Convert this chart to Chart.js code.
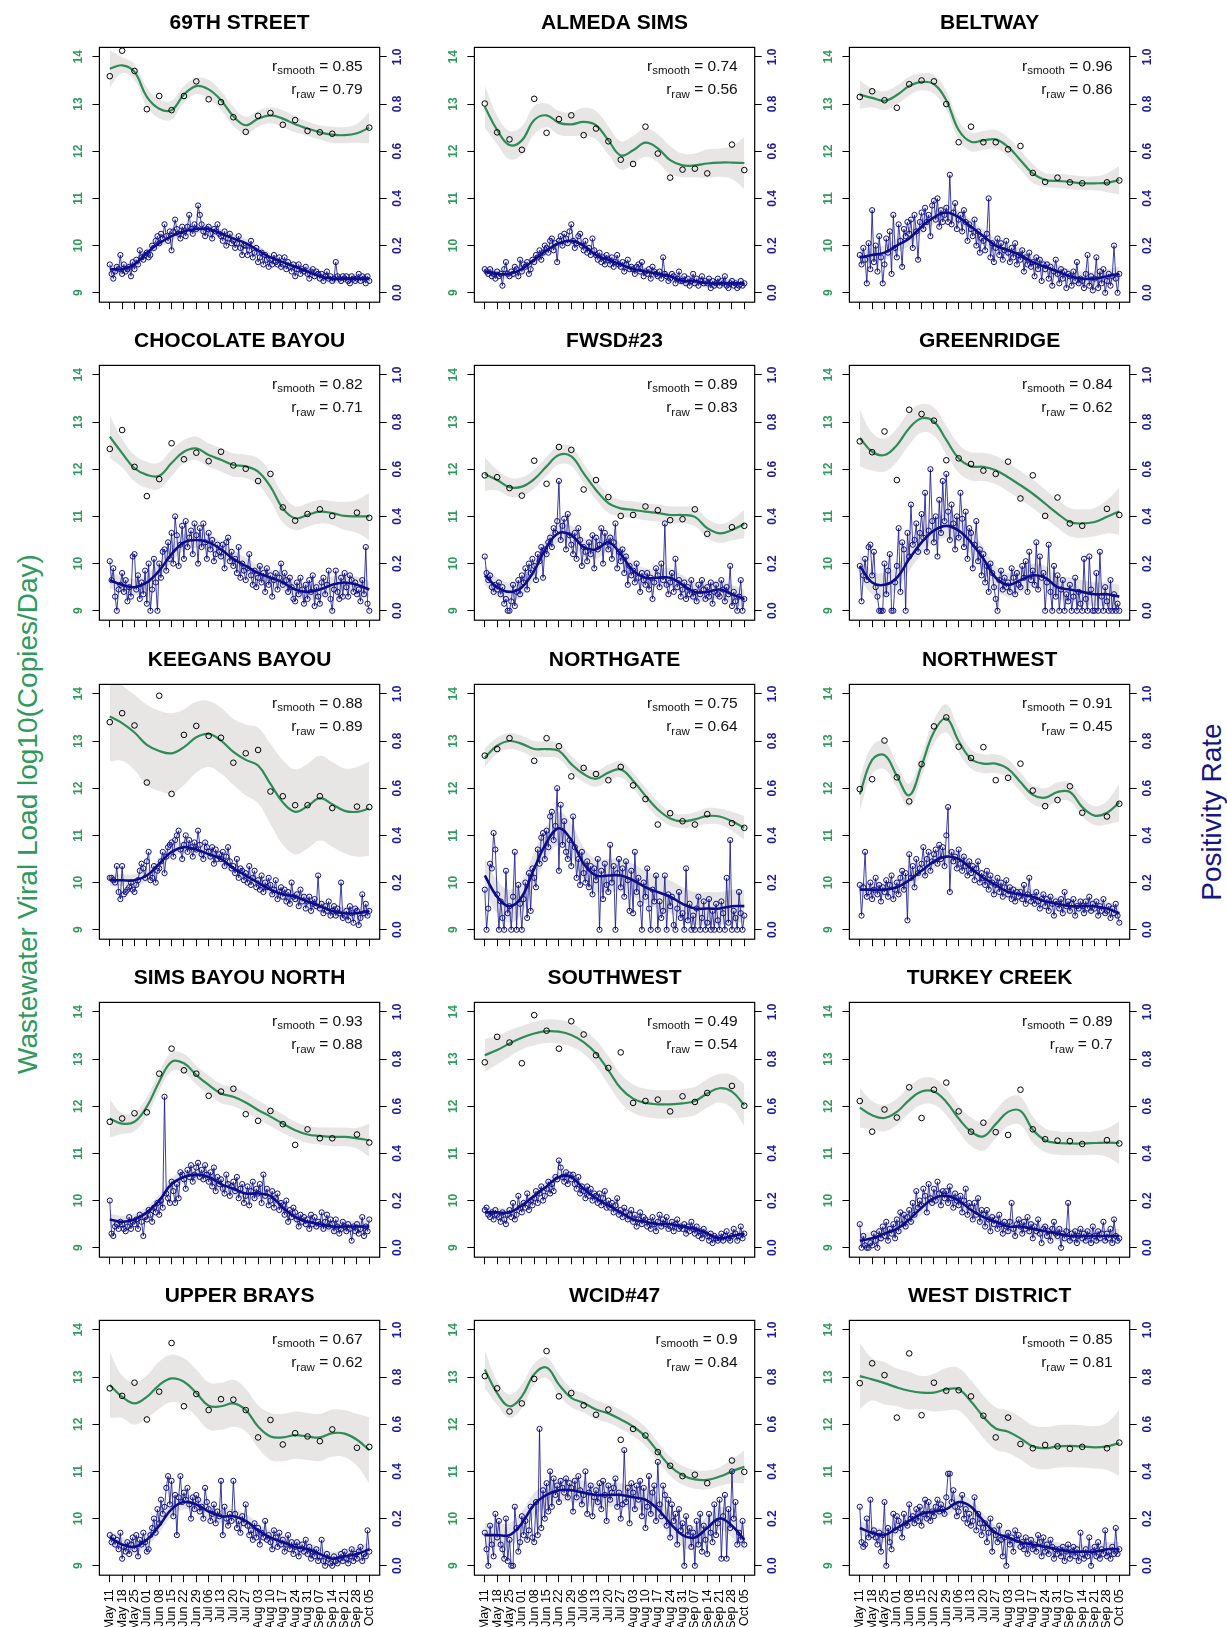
<!DOCTYPE html>
<html>
<head>
<meta charset="utf-8">
<script src="https://cdn.jsdelivr.net/npm/chart.js@4.4.1/dist/chart.umd.min.js"></script>
<style>
body { margin: 0; background: #fff; }
#page { position: relative; width: 1227px; height: 1627px; overflow: hidden; background: #fff;
  font-family: "Liberation Sans", Arial, Helvetica, sans-serif; }
#page canvas { position: absolute; }
.ytitle { position: absolute; white-space: nowrap; font-size: 28px; line-height: 1;
  transform: translate(-50%, -50%) rotate(-90deg); }
</style>
</head>
<body>
<div id="page">
  <div class="ytitle" style="left:28px; top:814px; color:#2e9a5c;">Wastewater Viral Load log10(Copies/Day)</div>
  <div class="ytitle" style="left:1212px; top:812px; color:#15158a;">Positivity Rate</div>
</div>
<script>
// ---- data ----
const sites = ['69TH STREET', 'ALMEDA SIMS', 'BELTWAY', 'CHOCOLATE BAYOU', 'FWSD#23', 'GREENRIDGE',
  'KEEGANS BAYOU', 'NORTHGATE', 'NORTHWEST', 'SIMS BAYOU NORTH', 'SOUTHWEST', 'TURKEY CREEK',
  'UPPER BRAYS', 'WCID#47', 'WEST DISTRICT'];
const rSmooth = [0.85, 0.74, 0.96, 0.82, 0.89, 0.84, 0.88, 0.75, 0.91, 0.93, 0.49, 0.89, 0.67, 0.9, 0.85];
const rRaw = [0.79, 0.56, 0.86, 0.71, 0.83, 0.62, 0.89, 0.64, 0.45, 0.88, 0.54, 0.7, 0.62, 0.84, 0.81];

// days since May 11, one tick per week
const weekDays = [0, 7, 14, 21, 28, 35, 42, 49, 56, 63, 70, 77, 84, 91, 98, 105, 112, 119, 126, 133, 140, 147];
const weekLabels = ['May 11', 'May 18', 'May 25', 'Jun 01', 'Jun 08', 'Jun 15', 'Jun 22', 'Jun 29', 'Jul 06',
  'Jul 13', 'Jul 20', 'Jul 27', 'Aug 03', 'Aug 10', 'Aug 17', 'Aug 24', 'Aug 31', 'Sep 07', 'Sep 14',
  'Sep 21', 'Sep 28', 'Oct 05'];
const wwTicks = [9, 10, 11, 12, 13, 14];
const posTicks = [0, 0.2, 0.4, 0.6, 0.8, 1.0];

// weekly wastewater samples, log10 copies/day
const wwRaw = [
  [13.59,14.13,13.70,12.89,13.17,12.87,13.17,13.48,13.10,13.04,12.72,12.41,12.75,12.81,12.56,12.66,12.43,12.40,12.37,null,null,12.50],
  [13.01,12.40,12.25,12.03,13.11,12.39,12.68,12.76,12.34,12.48,12.21,11.82,11.73,12.52,11.95,11.44,11.61,11.63,11.53,null,12.14,11.60],
  [13.15,13.27,13.08,12.92,13.42,13.50,13.48,13.00,12.19,12.52,12.19,12.19,12.04,12.11,11.54,11.35,11.44,11.34,11.32,null,11.34,11.38],
  [12.43,12.83,12.05,11.43,11.79,12.55,12.21,12.35,12.17,12.37,12.08,12.01,11.75,11.90,11.19,10.91,11.05,11.15,11.01,null,11.08,10.97],
  [11.87,11.83,11.60,11.44,12.18,11.69,12.47,12.41,11.57,11.77,11.41,11.01,11.03,11.21,11.13,10.92,10.94,11.15,10.63,null,10.77,10.80],
  [12.59,12.36,12.80,11.77,13.26,13.17,13.03,12.19,12.23,12.11,11.97,11.90,12.16,11.38,11.87,11.01,11.40,10.85,10.80,null,11.16,11.03],
  [13.40,13.59,13.33,12.12,13.96,11.88,13.13,13.32,13.11,13.07,12.54,12.74,12.81,11.93,11.83,11.64,11.64,11.83,11.58,null,11.61,11.60],
  [12.69,12.83,13.06,null,12.58,13.06,12.89,12.25,12.43,12.30,12.17,12.45,12.06,11.77,11.23,11.47,11.30,11.23,11.45,null,11.26,11.16],
  [11.98,12.19,13.01,12.23,11.72,12.51,13.31,13.50,12.88,12.64,12.87,12.17,12.22,12.52,11.95,11.62,11.75,12.04,11.48,null,11.40,11.67],
  [11.67,11.74,11.85,11.87,12.69,13.22,12.76,12.69,12.22,12.31,12.37,11.83,11.69,11.90,11.62,11.18,11.51,11.32,11.32,null,11.40,11.23],
  [12.93,13.47,13.35,12.91,13.93,13.60,13.22,13.80,13.52,13.08,12.81,13.14,12.07,12.11,12.14,11.89,12.21,12.09,12.28,null,12.43,12.01],
  [12.11,11.46,11.93,11.76,12.40,11.75,12.35,12.50,11.89,11.46,11.65,11.45,11.39,12.35,11.51,11.30,11.27,11.26,11.20,null,11.28,11.21],
  [12.76,12.60,12.88,12.10,12.69,13.72,12.38,12.64,12.30,12.53,12.52,12.30,11.72,12.09,11.57,11.81,11.74,11.64,11.89,null,11.50,11.52],
  [13.02,12.76,12.27,12.44,12.96,13.55,12.59,12.66,12.40,12.20,12.31,11.67,11.90,11.76,11.41,11.12,10.90,10.93,10.75,null,11.23,10.99],
  [12.87,13.29,13.04,12.14,13.50,12.19,12.88,12.71,12.72,12.59,12.18,11.72,12.14,11.58,11.49,11.56,11.53,11.48,11.52,null,11.49,11.61]
];

// smoothed wastewater curve read at each weekly tick
const wwSmooth = [
  [13.75,13.82,13.68,13.15,12.90,12.87,13.20,13.38,13.31,13.08,12.74,12.55,12.69,12.76,12.69,12.57,12.48,12.40,12.35,12.34,12.38,12.50],
  [12.94,12.45,12.13,12.23,12.66,12.76,12.60,12.57,12.62,12.55,12.23,11.91,12.02,12.18,12.06,11.81,11.70,11.70,11.74,11.76,11.76,11.75],
  [13.20,13.13,13.07,13.19,13.38,13.47,13.42,13.08,12.45,12.20,12.23,12.25,12.09,11.81,11.53,11.39,11.37,11.35,11.32,11.32,11.33,11.39],
  [12.69,12.34,12.02,11.88,11.86,12.13,12.37,12.44,12.30,12.20,12.09,12.06,11.95,11.63,11.17,10.96,11.03,11.10,11.07,11.01,11.00,11.00],
  [11.90,11.77,11.62,11.63,11.79,12.06,12.30,12.27,11.91,11.56,11.28,11.17,11.14,11.10,11.07,11.03,11.03,10.99,10.75,10.64,10.71,10.84],
  [12.66,12.37,12.30,12.51,12.87,13.08,13.01,12.62,12.23,12.06,12.05,11.98,11.83,11.66,11.48,11.27,11.06,10.88,10.85,10.88,10.99,11.11],
  [13.52,13.38,13.18,12.92,12.79,12.74,12.87,13.08,13.15,13.01,12.77,12.60,12.48,12.09,11.70,11.50,11.62,11.79,11.66,11.52,11.50,11.57],
  [12.65,12.90,13.00,12.94,12.83,12.83,12.79,12.51,12.30,12.20,12.33,12.40,12.16,11.84,11.55,11.36,11.30,11.34,11.41,11.40,11.30,11.16],
  [11.87,12.60,12.70,12.26,11.85,12.48,13.19,13.48,13.00,12.62,12.52,12.52,12.41,12.13,11.86,11.80,11.92,11.92,11.60,11.42,11.48,11.70],
  [11.74,11.63,11.67,11.99,12.52,12.94,12.91,12.66,12.45,12.27,12.20,12.08,11.92,11.78,11.63,11.49,11.40,11.37,11.35,11.35,11.32,11.28],
  [13.08,13.19,13.33,13.45,13.54,13.59,13.58,13.51,13.36,13.12,12.76,12.38,12.16,12.07,12.04,12.04,12.06,12.11,12.27,12.38,12.31,12.02],
  [11.97,11.81,11.75,11.88,12.13,12.31,12.31,12.09,11.74,11.46,11.36,11.62,11.88,11.90,11.50,11.28,11.22,11.21,11.21,11.22,11.23,11.22],
  [12.83,12.58,12.44,12.58,12.83,12.97,12.90,12.66,12.39,12.38,12.44,12.30,11.95,11.74,11.72,11.77,11.74,11.72,11.81,11.80,11.67,11.45],
  [13.16,12.66,12.38,12.59,13.06,13.20,12.84,12.56,12.45,12.31,12.23,12.10,11.95,11.74,11.42,11.11,10.92,10.83,10.82,10.89,11.00,11.10],
  [13.02,12.95,12.87,12.78,12.71,12.67,12.67,12.74,12.74,12.48,12.16,11.91,11.84,11.70,11.53,11.49,11.53,11.54,11.53,11.51,11.53,11.60]
];

// half-width of the grey band around the wastewater curve
const wwBand = [
  [0.40,0.17,0.17,0.20,0.20,0.20,0.18,0.17,0.20,0.20,0.20,0.18,0.17,0.17,0.18,0.17,0.15,0.15,0.17,0.17,0.20,0.33],
  [0.45,0.30,0.30,0.30,0.30,0.25,0.25,0.25,0.30,0.30,0.30,0.30,0.30,0.30,0.30,0.30,0.25,0.25,0.30,0.30,0.35,0.55],
  [0.30,0.20,0.20,0.20,0.20,0.18,0.20,0.20,0.20,0.20,0.20,0.20,0.20,0.20,0.20,0.15,0.15,0.15,0.15,0.15,0.20,0.30],
  [0.45,0.30,0.28,0.28,0.28,0.28,0.25,0.25,0.25,0.25,0.25,0.25,0.28,0.30,0.30,0.25,0.25,0.25,0.25,0.30,0.35,0.50],
  [0.35,0.22,0.20,0.20,0.20,0.20,0.20,0.20,0.20,0.20,0.20,0.18,0.18,0.18,0.18,0.18,0.18,0.20,0.20,0.20,0.22,0.30],
  [0.60,0.40,0.35,0.35,0.35,0.30,0.30,0.30,0.30,0.30,0.30,0.30,0.30,0.30,0.30,0.30,0.30,0.30,0.30,0.30,0.35,0.50],
  [0.95,0.80,0.80,0.85,0.85,0.85,0.80,0.75,0.70,0.70,0.70,0.75,0.80,0.85,0.90,0.90,0.90,0.90,0.90,0.90,0.95,1.00],
  [0.20,0.17,0.17,0.17,0.17,0.17,0.17,0.17,0.17,0.17,0.17,0.17,0.17,0.17,0.17,0.15,0.15,0.15,0.17,0.17,0.20,0.25],
  [0.35,0.30,0.30,0.25,0.25,0.25,0.25,0.30,0.25,0.20,0.20,0.20,0.20,0.20,0.20,0.20,0.20,0.20,0.20,0.20,0.25,0.40],
  [0.40,0.22,0.20,0.20,0.20,0.20,0.20,0.20,0.20,0.20,0.20,0.20,0.20,0.20,0.20,0.18,0.18,0.18,0.20,0.20,0.22,0.35],
  [0.35,0.30,0.28,0.25,0.25,0.25,0.25,0.25,0.25,0.28,0.30,0.30,0.30,0.30,0.30,0.30,0.30,0.30,0.30,0.30,0.35,0.45],
  [0.42,0.30,0.28,0.28,0.28,0.28,0.28,0.28,0.28,0.30,0.30,0.30,0.30,0.30,0.28,0.25,0.25,0.25,0.25,0.25,0.30,0.45],
  [0.70,0.45,0.45,0.45,0.50,0.50,0.50,0.50,0.50,0.50,0.50,0.45,0.45,0.50,0.50,0.50,0.50,0.50,0.50,0.50,0.55,0.70],
  [0.40,0.25,0.25,0.25,0.22,0.22,0.22,0.20,0.20,0.20,0.20,0.20,0.20,0.20,0.20,0.20,0.20,0.20,0.20,0.20,0.25,0.35],
  [0.70,0.45,0.45,0.40,0.40,0.35,0.40,0.45,0.45,0.45,0.45,0.45,0.45,0.45,0.45,0.45,0.45,0.45,0.45,0.45,0.50,0.70]
];

// smoothed positivity rate (%) at each weekly tick
const posSmooth = [
  [10,10,12,17,21,24,26,27,27,25,23,21,18,15,13,11,9,7,6,6,6,6],
  [9,8,8,10,14,18,21,22,20,16,14,12,10,9,8,7,5,5,4,4,4,4],
  [15,16,17,20,23,28,32,34,32,28,24,20,18,16,13,11,9,7,6,6,7,8],
  [13,11,10,12,17,24,29,30,29,26,22,19,16,14,12,9,8,9,11,12,11,9],
  [15,10,8,10,17,27,33,32,27,26,29,24,17,14,14,14,11,8,8,9,7,5],
  [19,12,11,14,22,29,34,36,34,29,22,14,11,13,15,14,10,9,8,7,7,6],
  [21,21,21,23,28,33,35,34,32,30,26,23,20,17,15,14,12,10,8,7,7,8],
  [23,14,10,14,26,37,43,38,28,23,23,23,21,18,16,14,11,9,9,9,10,10],
  [17,17,17,18,21,25,29,31,30,26,22,19,16,15,14,12,11,10,10,10,9,7],
  [12,11,12,15,20,27,30,31,30,27,25,23,23,22,17,13,11,10,9,9,9,9],
  [15,15,15,18,22,26,30,30,25,21,18,15,12,11,10,10,9,8,6,4,5,6],
  [3,4,6,8,12,17,21,22,20,16,13,11,9,9,8,7,6,5,5,5,5,5],
  [12,9,8,11,17,24,27,26,23,21,21,19,15,12,10,8,7,5,3,4,5,7],
  [13,13,13,18,26,30,32,32,31,30,30,30,29,28,24,18,13,12,16,20,17,11],
  [16,14,13,16,19,22,23,24,27,25,19,14,12,10,9,8,7,6,6,6,7,7]
];
// half-width of the grey band around the positivity curve (%)
const posBand = [2, 2, 3, 3.5, 4, 5, 2.5, 7, 3, 2.5, 2, 3, 3, 5, 3];

// daily positivity rate (%), May 11 .. Oct 05
const posRaw = [
  [12,8,6,9,11,10,16, 8,12,9,10,11,7,13, 10,14,12,18,15,14,16, 17,15,16,20,19,22,24, 21,25,23,29,24,22,26,
   18,26,31,27,25,23,28, 26,24,28,33,27,25,29, 27,37,33,29,26,24,27, 28,25,23,27,26,29,25, 24,22,26,20,23,25,21,
   22,19,21,24,19,16,20, 20,16,18,22,15,17,19, 13,15,17,12,16,14,11, 14,12,16,13,12,15,11, 12,15,10,13,11,9,12,
   7,10,12,8,10,9,11, 8,6,9,10,7,9,8, 6,8,5,7,9,6,7, 5,6,13,7,6,5,7, 6,7,5,4,7,6,5, 6,8,5,7,6,4,7, 5],
  [10,9,8,10,7,8,6, 9,7,8,3,10,13,8, 7,9,8,11,10,7,14, 9,12,11,13,8,10,14, 13,16,15,18,14,17,20,
   19,17,22,23,18,21,13, 22,24,20,25,23,21,26, 29,22,19,21,24,25,20, 18,22,17,19,16,23,18, 16,14,17,13,15,12,16,
   14,12,15,11,13,16,12, 11,13,9,12,14,10,11, 10,8,11,12,9,13,7, 9,8,10,6,11,9,8, 7,9,6,15,8,7,5,
   6,8,7,4,6,9,5, 5,7,4,6,3,5,8, 4,6,3,5,7,4,5, 4,6,2,5,3,4,6, 3,5,4,7,3,2,4, 5,3,4,2,3,5,3, 4],
  [16,12,19,14,4,21,10, 35,13,20,9,24,15,4, 12,23,17,26,8,33,19, 15,29,22,11,27,24,30, 25,31,19,33,26,14,30,
   34,27,36,30,33,24,37, 39,31,40,28,35,30,33, 36,30,50,29,34,38,27, 31,33,26,35,30,22,29, 27,24,31,20,26,17,23,
   22,18,25,40,15,21,13, 19,23,16,21,14,18,22, 17,13,19,15,21,12,16, 14,18,9,15,12,17,11, 13,7,15,10,14,5,12,
   10,12,6,11,3,9,14, 8,4,10,6,9,2,8, 7,3,9,5,13,4,6, 5,2,8,16,3,7,1, 6,15,2,9,4,10,0, 5,8,3,7,20,6,0, 8],
  [21,13,18,6,0,9,11, 16,8,13,4,10,6,23, 24,9,15,5,12,7,17, 3,20,0,9,22,12,0, 20,14,25,26,17,29,22,
   33,20,40,32,19,28,36, 22,38,27,31,34,24,37, 32,20,35,27,37,29,22, 33,26,30,21,24,28,25, 23,28,18,29,31,21,25,
   19,22,16,27,14,20,17, 13,18,24,15,11,17,10, 14,19,12,16,8,18,11, 15,6,13,16,9,14,20, 11,16,13,8,14,10,5,
   4,12,7,14,9,3,11, 5,13,8,15,2,10,6, 3,12,14,7,11,17,5, 0,9,17,8,5,14,6, 16,10,6,15,13,8,12, 7,9,4,13,7,27,3, 0],
  [23,16,13,15,10,8,11, 9,12,7,10,3,5,0, 0,4,11,2,8,13,7, 15,12,18,9,20,16,22, 19,13,24,21,27,14,26,
   24,29,31,27,35,33,38, 55,30,36,39,26,41,32, 28,24,33,22,35,30,19, 27,25,21,29,24,32,18, 31,26,28,35,20,33,29,
   26,31,22,29,37,18,25, 21,26,16,23,11,19,15, 17,12,20,14,8,16,13, 11,16,9,14,5,12,18, 15,10,20,13,37,11,7,
   12,16,8,22,10,13,6, 9,12,5,10,7,13,6, 8,4,11,7,13,9,5, 10,6,12,3,8,11,7, 6,13,9,4,10,7,19, 2,8,4,0,6,13,0, 5],
  [19,4,15,22,13,27,28, 15,25,10,6,0,0,0, 20,7,17,24,0,0,12, 19,35,8,29,26,0,33, 23,45,28,30,37,25,33,
   41,31,50,25,34,60,38, 29,40,23,47,33,55,38, 58,42,30,45,37,26,40, 31,50,39,27,42,22,35, 33,18,28,38,21,26,15,
   24,12,19,8,20,16,10, 5,0,13,17,9,14,10, 12,8,18,14,7,16,11, 10,19,14,21,8,25,13, 17,11,29,9,23,14,16,
   0,12,28,8,0,19,6, 15,0,9,13,0,7,4, 11,0,6,14,0,8,3, 0,22,5,0,23,9,0, 0,16,0,25,6,0,10, 4,0,13,0,7,0,3, 0],
  [22,22,21,20,27,16,13, 27,15,16,17,18,20,17, 16,19,21,25,28,26,22, 29,33,21,22,27,20,25, 26,29,33,24,31,35,36,
   37,31,38,40,42,34,30, 36,40,33,38,35,31,37, 34,42,36,32,30,37,35, 33,31,35,28,34,30,32, 30,33,27,31,35,29,26,
   27,24,30,22,26,25,21, 24,20,27,19,22,25,18, 21,17,23,16,20,18,22, 19,15,17,21,13,16,18, 14,17,12,16,11,20,14,
   13,15,10,17,12,14,9, 12,14,8,11,13,10,23, 9,11,7,10,8,12,6, 8,10,6,9,7,20,5, 6,8,4,10,7,3,9, 8,2,5,15,7,11,6, 8],
  [17,0,9,28,26,41,34, 15,0,12,5,0,25,7, 10,0,14,33,0,19,11, 0,13,20,5,24,8,26, 22,18,34,28,39,41,30,
   42,35,48,50,38,44,60, 25,53,36,46,33,30,38, 27,48,35,22,30,19,33, 24,20,29,18,27,15,26, 21,30,0,25,13,28,19,
   16,36,20,27,0,24,30, 18,26,14,29,21,8,25, 7,33,16,22,11,0,20, 14,26,9,0,17,12,23, 0,12,5,8,23,0,15,
   10,14,2,0,9,16,5, 7,0,26,4,11,0,6, 0,9,14,0,5,12,0, 3,13,0,8,0,11,4, 0,12,7,0,22,3,38, 0,8,5,0,16,7,0, 6],
  [19,6,18,33,14,16,20, 13,17,22,15,19,12,18, 16,21,14,19,23,13,17, 20,15,22,25,17,24,4, 32,22,27,18,30,24,26,
   28,35,23,30,33,25,29, 32,34,28,36,30,35,27, 40,52,16,33,29,31,26, 34,28,25,31,27,23,29, 24,27,21,26,29,20,24,
   22,19,25,17,23,20,15, 19,22,16,20,14,18,21, 15,18,13,17,12,16,14, 16,13,19,11,15,22,12, 14,11,16,12,9,13,15,
   10,13,8,14,11,6,12, 11,9,13,7,16,10,12, 8,11,13,6,10,9,12, 10,7,12,9,14,8,11, 9,12,6,10,8,13,7, 8,10,5,9,7,11,6, 3],
  [20,6,5,9,10,8,11, 10,8,7,9,13,8,11, 10,12,8,14,11,5,13, 12,16,14,11,17,15,19, 14,20,17,64,23,21,19,
   28,24,19,27,21,32,31, 29,25,33,30,35,28,31, 34,36,30,33,29,35,31, 28,32,26,34,24,30,27, 29,25,23,31,27,22,26,
   28,24,30,21,25,27,19, 22,26,18,24,28,21,25, 23,27,19,31,22,25,18, 20,24,17,21,23,16,19, 18,14,20,11,16,13,17,
   15,12,9,14,11,13,10, 12,8,14,10,13,9,11, 10,15,8,11,14,9,12, 10,7,12,9,6,8,11, 9,7,10,8,3,9,7, 10,6,8,13,5,9,7, 12],
  [16,17,14,13,15,12,16, 14,13,11,15,12,10,14, 16,13,19,12,14,22,17, 15,19,17,23,16,20,18, 21,24,19,23,26,20,22,
   25,28,23,27,24,30,29, 37,34,30,28,32,27,31, 29,31,27,25,30,23,26, 24,21,26,22,25,20,23, 22,19,23,18,21,24,17,
   20,17,19,15,18,21,14, 16,13,17,15,12,14,16, 11,14,9,12,15,10,13, 12,9,11,8,13,10,7, 11,14,9,12,10,13,8,
   9,11,7,10,12,8,9, 8,10,6,9,7,11,8, 6,9,5,7,4,8,6, 5,3,6,2,5,4,3, 4,6,3,5,7,4,3, 5,8,6,3,5,9,4, 6],
  [10,0,5,1,0,0,2, 1,6,3,0,7,4,9, 5,11,3,8,6,10,4, 12,7,15,10,14,9,13, 16,11,19,14,24,17,20,
   18,25,22,15,27,21,19, 25,20,28,23,18,24,21, 24,19,26,21,17,23,20, 18,22,15,20,25,14,19, 17,12,19,14,21,11,16,
   14,9,16,12,7,13,10, 12,8,14,10,6,11,9, 7,11,19,8,5,10,12, 9,6,11,8,13,7,10, 4,9,7,12,6,2,8,
   9,5,7,3,8,11,6, 5,8,0,6,4,7,19, 3,6,4,7,2,5,8, 4,6,3,7,5,2,9, 5,3,7,4,6,11,3, 6,4,8,2,12,5,3, 4],
  [13,10,12,9,11,7,14, 3,8,6,10,5,9,12, 7,13,4,11,9,14,10, 6,7,13,16,20,14,24, 18,28,22,25,33,38,26,
   36,21,30,13,29,38,27, 31,28,33,26,20,29,24, 30,28,23,25,20,33,27, 24,19,22,26,18,23,21, 36,13,25,20,17,22,19,
   36,22,16,19,14,21,18, 26,17,13,15,11,18,12, 16,9,14,12,19,11,13, 10,7,15,12,8,14,9, 11,6,9,13,7,10,5,
   8,10,4,7,9,6,11, 5,8,3,6,4,7,2, 4,11,2,0,5,3,1, 0,4,2,1,3,5,2, 6,3,1,4,7,2,5, 3,6,8,2,5,4,15, 6],
  [14,7,0,17,9,4,22, 12,19,9,7,3,20,2, 11,0,0,25,16,6,10, 21,13,19,11,15,25,12, 10,27,13,58,16,32,20,
   35,23,40,25,37,30,34, 27,36,33,31,37,29,35, 33,23,36,29,38,32,26, 30,40,22,31,34,21,29, 32,27,35,24,36,30,19,
   34,28,31,33,37,25,31, 20,26,49,27,33,18,35, 31,24,34,28,36,21,33, 16,25,38,22,31,34,19, 44,26,21,34,30,17,28,
   12,26,19,22,9,24,15, 18,0,21,13,16,8,14, 0,19,9,22,6,17,11, 5,22,14,10,26,13,18, 28,3,21,30,3,24,16, 40,20,27,9,14,11,19, 9],
  [25,10,8,9,20,12,28, 13,15,12,9,14,6,13, 27,0,16,10,7,22,15, 21,19,16,12,22,18,17, 26,20,21,18,24,19,25,
   17,22,28,20,27,19,23, 21,25,28,23,26,24,22, 29,39,39,27,32,25,21, 23,26,30,20,24,18,22, 17,19,29,15,22,18,13,
   16,18,10,14,20,6,15, 13,10,17,11,4,12,0, 14,9,12,6,15,11,13, 8,10,7,12,5,9,11, 7,9,6,13,10,4,12,
   6,9,5,11,8,3,7, 5,7,4,8,2,6,9, 3,6,8,4,7,2,14, 5,3,7,4,12,0,6, 8,4,10,3,7,5,15, 4,6,3,8,5,16,5, 7]
];

// ---- look ----
const FONT = '"Liberation Sans", Arial, Helvetica, sans-serif';
const GREEN = '#2e8b57';
const GREEN_TXT = '#2e9a5c';
const NAVY = '#0c0c8c';
const NAVY_TXT = '#1a1aa0';
const BAND = '#e8e5e5';
const BAND2 = 'rgba(205,205,205,0.55)';

const colLeft = [50, 425, 800];
const rowTop = [0, 318, 637, 955, 1273];
const PAD_TOP = 47.4, BOX_H = 254.8;

Chart.defaults.font.family = FONT;
Chart.defaults.animation = false;

const page = document.getElementById('page');

function drawR(ctx, xRight, yBase, sub, val) {
	const big = '15.5px ' + FONT, small = '11.5px ' + FONT;
	ctx.font = big;
	const wR = ctx.measureText('r').width;
	const tail = ' = ' + val;
	const wT = ctx.measureText(tail).width;
	ctx.font = small;
	const wS = ctx.measureText(sub).width;
	let x = xRight - wR - wS - wT;
	ctx.textAlign = 'left';
	ctx.textBaseline = 'alphabetic';
	ctx.font = big; ctx.fillText('r', x, yBase); x += wR;
	ctx.font = small; ctx.fillText(sub, x, yBase + 3.5); x += wS;
	ctx.font = big; ctx.fillText(tail, x, yBase);
}

function makePanel(i) {
	const row = Math.floor(i / 3), col = i % 3;
	const h = row < 4 ? 318 : 354;
	const bottomRow = row == 4;

	const cv = document.createElement('canvas');
	cv.width = 375;
	cv.height = h;
	cv.style.left = colLeft[col] + 'px';
	cv.style.top = rowTop[row] + 'px';
	page.appendChild(cv);

	const ws = wwSmooth[i], wb = wwBand[i], ps = posSmooth[i], pb = posBand[i];
	const weekly = fn => weekDays.map((d, k) => ({ x: d, y: fn(k) }));

	const deco = {
		id: 'deco',
		afterDraw(chart) {
			const ctx = chart.ctx, a = chart.chartArea;
			ctx.save();
			ctx.strokeStyle = '#000';
			ctx.lineWidth = 1.2;
			ctx.strokeRect(a.left, a.top, a.right - a.left, a.bottom - a.top);

			ctx.fillStyle = '#000';
			ctx.font = 'bold 21px ' + FONT;
			ctx.textAlign = 'center';
			ctx.textBaseline = 'alphabetic';
			ctx.fillText(sites[i], (a.left + a.right) / 2, a.top - 18);

			ctx.font = 'bold 12px ' + FONT;
			ctx.textAlign = 'center';
			ctx.textBaseline = 'middle';
			const yl = chart.scales.y, yr = chart.scales.y2;
			ctx.fillStyle = GREEN_TXT;
			yl.ticks.forEach(t => {
				ctx.save();
				ctx.translate(a.left - 21, yl.getPixelForValue(t.value));
				ctx.rotate(-Math.PI / 2);
				ctx.fillText(String(t.value), 0, 0);
				ctx.restore();
			});
			ctx.fillStyle = NAVY_TXT;
			yr.ticks.forEach(t => {
				ctx.save();
				ctx.translate(a.right + 18, yr.getPixelForValue(t.value));
				ctx.rotate(-Math.PI / 2);
				ctx.fillText(t.value.toFixed(1), 0, 0);
				ctx.restore();
			});

			ctx.fillStyle = '#111';
			drawR(ctx, a.right - 17, a.top + 23.5, 'smooth', String(rSmooth[i]));
			drawR(ctx, a.right - 17, a.top + 47, 'raw', String(rRaw[i]));
			ctx.restore();
		}
	};

	new Chart(cv, {
		type: 'line',
		data: {
			datasets: [
				{ data: weekly(k => ws[k] + wb[k]), yAxisID: 'y', borderWidth: 0, pointRadius: 0,
				  fill: '+1', backgroundColor: BAND, tension: 0.4, order: 10 },
				{ data: weekly(k => ws[k] - wb[k]), yAxisID: 'y', borderWidth: 0, pointRadius: 0,
				  fill: false, tension: 0.4, order: 10 },
				{ data: weekly(k => ws[k]), yAxisID: 'y', borderColor: GREEN, borderWidth: 2.2,
				  pointRadius: 0, fill: false, tension: 0.4, order: 6 },
				{ data: weekly(k => wwRaw[i][k]), yAxisID: 'y', showLine: false, pointRadius: 2.8,
				  pointBorderColor: '#000', pointBackgroundColor: 'rgba(0,0,0,0)', pointBorderWidth: 1, order: 5 },
				{ data: weekly(k => (ps[k] + pb) / 100), yAxisID: 'y2', borderWidth: 0, pointRadius: 0,
				  fill: '+1', backgroundColor: BAND2, tension: 0.4, order: 9 },
				{ data: weekly(k => (ps[k] - pb) / 100), yAxisID: 'y2', borderWidth: 0, pointRadius: 0,
				  fill: false, tension: 0.4, order: 9 },
				{ data: posRaw[i].map((v, d) => ({ x: d, y: v / 100 })), yAxisID: 'y2', borderColor: NAVY,
				  borderWidth: 0.8, pointRadius: 2.6, pointBorderColor: NAVY, pointBackgroundColor: 'rgba(0,0,0,0)',
				  pointBorderWidth: 1, fill: false, tension: 0, order: 3 },
				{ data: weekly(k => ps[k] / 100), yAxisID: 'y2', borderColor: NAVY, borderWidth: 2.6,
				  pointRadius: 0, fill: false, tension: 0.4, order: 1 }
			]
		},
		options: {
			responsive: false,
			animation: false,
			layout: { padding: { top: PAD_TOP, left: 0, right: 0, bottom: 0 } },
			plugins: { legend: { display: false }, tooltip: { enabled: false }, title: { display: false } },
			scales: {
				x: {
					type: 'linear', position: 'bottom', min: -5.88, max: 152.88,
					afterBuildTicks: s => { s.ticks = weekDays.map(v => ({ value: v })); },
					afterFit: s => { s.height = h - PAD_TOP - BOX_H; },
					grid: { drawOnChartArea: false, drawTicks: true, tickLength: 7, color: '#000', lineWidth: 1 },
					border: { display: false },
					ticks: { display: bottomRow, autoSkip: false, minRotation: 90, maxRotation: 90, padding: 7,
					         color: '#000', font: { size: 12.5 }, callback: (v, idx) => weekLabels[idx] }
				},
				y: {
					type: 'linear', position: 'left', min: 8.8, max: 14.2,
					afterBuildTicks: s => { s.ticks = wwTicks.map(v => ({ value: v })); },
					afterFit: s => { s.width = 49.4; },
					grid: { drawOnChartArea: false, drawTicks: true, tickLength: 7, color: '#000', lineWidth: 1 },
					border: { display: false },
					ticks: { display: false }
				},
				y2: {
					type: 'linear', position: 'right', min: -0.04, max: 1.04,
					afterBuildTicks: s => { s.ticks = posTicks.map(v => ({ value: v })); },
					afterFit: s => { s.width = 375 - 49.4 - 280.3; },
					grid: { drawOnChartArea: false, drawTicks: true, tickLength: 7, color: '#000', lineWidth: 1 },
					border: { display: false },
					ticks: { display: false }
				}
			}
		},
		plugins: [deco]
	});
}

for (let i = 0; i < sites.length; i++) makePanel(i);
</script>
</body>
</html>
